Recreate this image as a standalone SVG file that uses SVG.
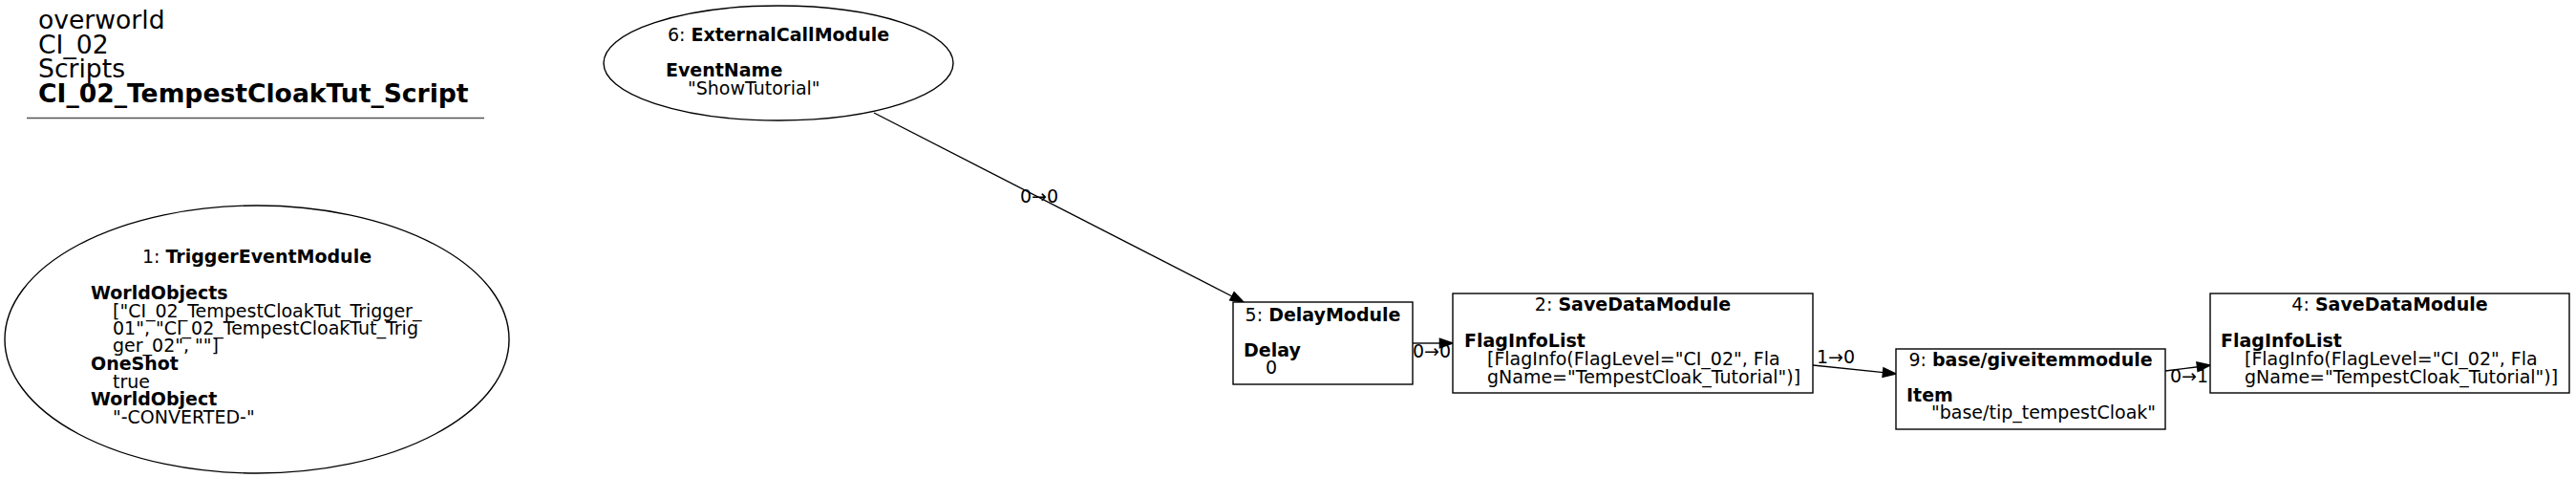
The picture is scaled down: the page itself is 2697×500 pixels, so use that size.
<svg xmlns="http://www.w3.org/2000/svg" width="2697" height="500" viewBox="0 0 2697 500">
<style>
text{font-family:"DejaVu Sans","Liberation Sans",sans-serif;font-size:19px;fill:#000}
.t{font-size:26.6px}
.b{font-weight:bold}
.m{text-anchor:middle}
.shape{fill:#fff;stroke:#000;stroke-width:1.4}
.edge line{stroke:#000;stroke-width:1.4}
.edge polygon{fill:#000;stroke:#000;stroke-width:1.4}
</style>
<rect width="2697" height="500" fill="#fff"/>
<g id="title">
<text class="t" x="40" y="30">overworld</text>
<text class="t" x="40" y="55.5">CI_02</text>
<text class="t" x="40" y="81">Scripts</text>
<text class="t b" x="40" y="106.5">CI_02_TempestCloakTut_Script</text>
<line x1="28" y1="123.5" x2="507" y2="123.5" stroke="#555" stroke-width="1.4"/>
</g>
<g id="connectors" class="edge">
<line x1="915" y1="118" x2="1290" y2="310"/>
<polygon points="1302,316 1287.7,314 1292.1,305.6"/>
<text x="1068" y="212">0→0</text>
<line x1="1479" y1="359" x2="1508" y2="359"/>
<polygon points="1521,359 1507.4,354.3 1507.4,363.7"/>
<text x="1479" y="374">0→0</text>
<line x1="1898" y1="382" x2="1972" y2="389.6"/>
<polygon points="1985,391 1971,394.3 1972,384.9"/>
<text x="1902" y="380">1→0</text>
<line x1="2267" y1="388" x2="2301" y2="383.7"/>
<polygon points="2314,382 2301.1,388.4 2299.9,379"/>
<text x="2272" y="400">0→1</text>
</g>
<g id="node1">
<ellipse class="shape" cx="269" cy="355" rx="264" ry="140"/>
<text class="m" x="269" y="275">1: <tspan class="b">TriggerEventModule</tspan></text>
<text class="b" x="95" y="313">WorldObjects</text>
<text x="118" y="332">["CI_02_TempestCloakTut_Trigger_</text>
<text x="118" y="350">01", "CI_02_TempestCloakTut_Trig</text>
<text x="118" y="368">ger_02", ""]</text>
<text class="b" x="95" y="387">OneShot</text>
<text x="118" y="406">true</text>
<text class="b" x="95" y="424">WorldObject</text>
<text x="118" y="443">"-CONVERTED-"</text>
</g>
<g id="node6">
<ellipse class="shape" cx="815" cy="66" rx="183" ry="60"/>
<text class="m" x="815" y="43">6: <tspan class="b">ExternalCallModule</tspan></text>
<text class="b" x="697" y="80">EventName</text>
<text x="720" y="99">"ShowTutorial"</text>
</g>
<g id="node5">
<rect class="shape" x="1291" y="316" width="188" height="86"/>
<text class="m" x="1385" y="336">5: <tspan class="b">DelayModule</tspan></text>
<text class="b" x="1302" y="373">Delay</text>
<text x="1325" y="391">0</text>
</g>
<g id="node2">
<rect class="shape" x="1521" y="307" width="377" height="104"/>
<text class="m" x="1709.5" y="325">2: <tspan class="b">SaveDataModule</tspan></text>
<text class="b" x="1533" y="363">FlagInfoList</text>
<text x="1557" y="382">[FlagInfo(FlagLevel="CI_02", Fla</text>
<text x="1557" y="401">gName="TempestCloak_Tutorial")]</text>
</g>
<g id="node9">
<rect class="shape" x="1985" y="365" width="282" height="84"/>
<text class="m" x="2126" y="383">9: <tspan class="b">base/giveitemmodule</tspan></text>
<text class="b" x="1996" y="420">Item</text>
<text x="2022" y="438">"base/tip_tempestCloak"</text>
</g>
<g id="node4">
<rect class="shape" x="2314" y="307" width="376" height="104"/>
<text class="m" x="2502" y="325">4: <tspan class="b">SaveDataModule</tspan></text>
<text class="b" x="2325" y="363">FlagInfoList</text>
<text x="2350" y="382">[FlagInfo(FlagLevel="CI_02", Fla</text>
<text x="2350" y="401">gName="TempestCloak_Tutorial")]</text>
</g>
</svg>
